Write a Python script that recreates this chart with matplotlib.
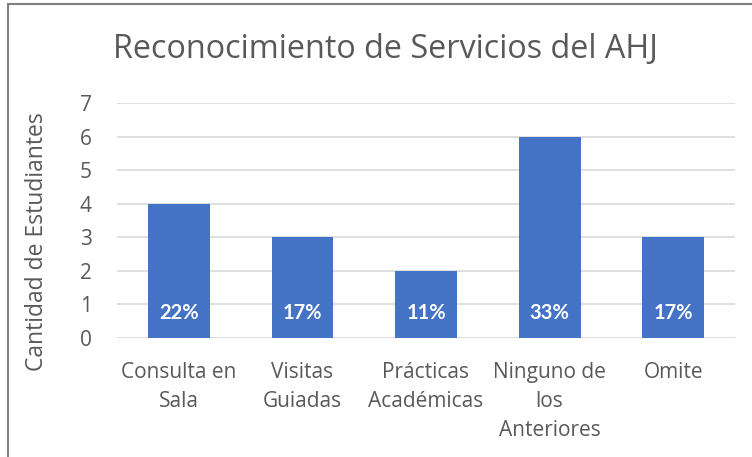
import matplotlib.pyplot as plt
from matplotlib.patches import Rectangle

categories = ["Consulta en\nSala", "Visitas\nGuiadas", "Prácticas\nAcadémicas",
              "Ninguno de\nlos\nAnteriores", "Omite"]
counts = [4, 3, 2, 6, 3]
percents = ["22%", "17%", "11%", "33%", "17%"]

plt.rcParams['font.family'] = ['Open Sans', 'DejaVu Sans']
gray = '#595959'

fig = plt.figure(figsize=(7.52, 4.57), dpi=100)
ax = fig.add_axes([117 / 752, 1 - 338 / 457, (735 - 117) / 752, (338 - 103) / 457])

# chart border (left and top visible in the reference)
fig.add_artist(Rectangle((8 / 752, -0.1), 1.0, 1 - 4 / 457 + 0.1,
                         transform=fig.transFigure, fill=False,
                         edgecolor='#7f7f7f', linewidth=1.5))

x = range(len(categories))
ax.bar(x, counts, width=0.5, color='#4472C4', zorder=3)
for xi, p in zip(x, percents):
    ax.text(xi, 0.74, p, ha='center', va='center', color='white',
            fontsize=14.5, fontweight='bold', family='Lato', zorder=4)

ax.set_xlim(-0.5, len(categories) - 0.5)
ax.set_ylim(0, 7)
ax.set_yticks(range(8))
ax.yaxis.grid(True, color='#d9d9d9', linewidth=1.2, zorder=0)
for s in ax.spines.values():
    s.set_visible(False)
ax.tick_params(axis='both', length=0, colors=gray, labelsize=15)
ax.tick_params(axis='y', pad=18)
ax.tick_params(axis='x', pad=17)
ax.set_xticks(list(x))
ax.set_xticklabels(categories, linespacing=1.5, va='top')
ax.set_ylabel("Cantidad de Estudiantes", color=gray, fontsize=16.5)
ax.yaxis.set_label_coords(-0.11, 0.41)

fig.text(385 / 752, 1 - 50 / 457, "Reconocimiento de Servicios del AHJ",
         ha='center', va='center', color=gray, fontsize=23.3)

fig.savefig("out.png", dpi=100)
